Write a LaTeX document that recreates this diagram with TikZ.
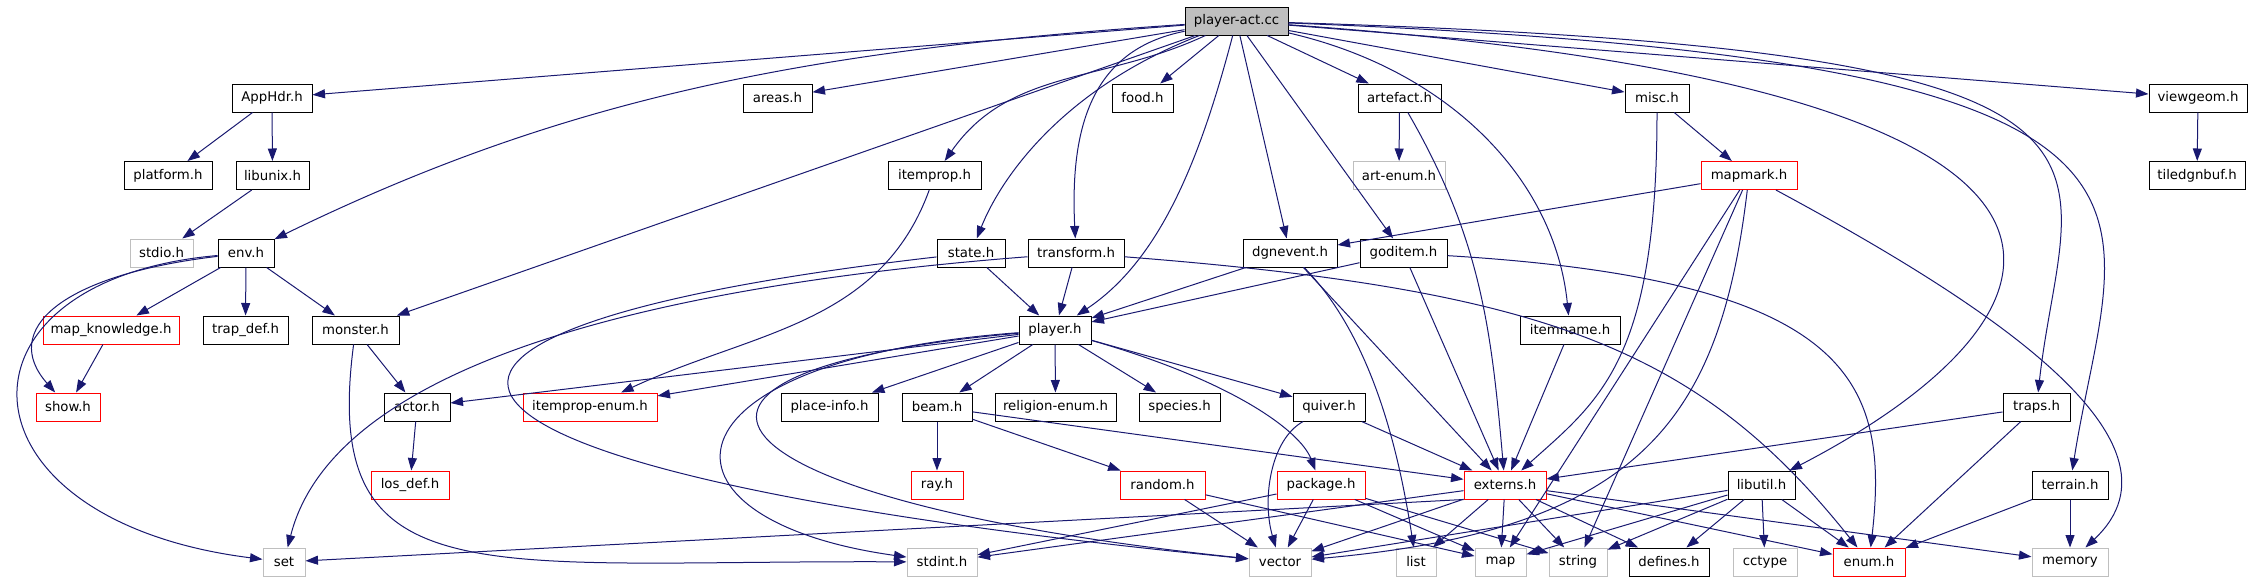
\documentclass[tikz,border=0pt]{standalone}
\usepackage{fontspec}
\setmainfont{DejaVu Sans}
\usepackage{tikz}
\usetikzlibrary{arrows.meta}
\definecolor{edgeblue}{RGB}{25,25,112}
\definecolor{sysgray}{RGB}{191,191,191}
\tikzset{
  font={\fontsize{13.3pt}{16}\selectfont}}

\begin{document}
\begin{tikzpicture}[x=1pt, y=1pt, line width=1pt,
  main/.style = {draw, rectangle, minimum height=28pt, inner sep=0pt},
  sys/.style = {main, draw=sysgray},
  warn/.style = {main, draw=red},
  root/.style = {main, fill=sysgray},
  dep/.style = {draw=edgeblue, -{Triangle[length=12.5pt, width=9pt]}}]
\useasboundingbox (0,0) rectangle (2251,-581);

% row 1 and 2
\node[root, minimum width=103pt] (pact) at (1236.5,-21) {player-act.cc};
\node[main, minimum width=80pt] (apphdr) at (272,-98) {AppHdr.h};
\node[main, minimum width=69pt] (areas) at (777.5,-98) {areas.h};
\node[main, minimum width=61pt] (food) at (1142.5,-98) {food.h};
\node[main, minimum width=83pt] (artefact) at (1399.5,-98) {artefact.h};
\node[main, minimum width=64pt] (misc) at (1657,-98) {misc.h};
\node[main, minimum width=98pt] (viewgeom) at (2198,-98) {viewgeom.h};

% row 3
\node[main, minimum width=88pt] (platform) at (168,-175.5) {platform.h};
\node[main, minimum width=73pt] (libunix) at (272.5,-175.5) {libunix.h};
\node[main, minimum width=93pt] (itemprop) at (934.5,-175.5) {itemprop.h};
\node[sys, minimum width=92pt] (artenum) at (1399,-175.5) {art-enum.h};
\node[warn, minimum width=96pt] (mapmark) at (1749,-175.5) {mapmark.h};
\node[main, minimum width=96pt] (tiledgnbuf) at (2197,-175.5) {tiledgnbuf.h};

% row 4
\node[sys, minimum width=63pt] (stdio) at (161.5,-253) {stdio.h};
\node[main, minimum width=56pt] (env) at (246,-253) {env.h};
\node[main, minimum width=68pt] (state) at (971,-253) {state.h};
\node[main, minimum width=96pt] (transform) at (1076,-253) {transform.h};
\node[main, minimum width=94pt] (dgnevent) at (1290,-253) {dgnevent.h};
\node[main, minimum width=87pt] (goditem) at (1403.5,-253) {goditem.h};

% row 5
\node[warn, minimum width=136pt] (mapknow) at (111,-330) {map\_knowledge.h};
\node[main, minimum width=85pt] (trapdef) at (245.5,-330) {trap\_def.h};
\node[main, minimum width=87pt] (monster) at (355.5,-330) {monster.h};
\node[main, minimum width=72pt] (player) at (1055,-330) {player.h};
\node[main, minimum width=100pt] (itemname) at (1570,-330) {itemname.h};

% row 6
\node[warn, minimum width=64pt] (show) at (68,-407) {show.h};
\node[main, minimum width=66pt] (actor) at (417,-407) {actor.h};
\node[warn, minimum width=134pt] (itempropenum) at (590,-407) {itemprop-enum.h};
\node[main, minimum width=97pt] (placeinfo) at (829.5,-407) {place-info.h};
\node[main, minimum width=70pt] (beam) at (937,-407) {beam.h};
\node[main, minimum width=121pt] (religion) at (1055.5,-407) {religion-enum.h};
\node[main, minimum width=81pt] (species) at (1179.5,-407) {species.h};
\node[main, minimum width=72pt] (quiver) at (1329,-407) {quiver.h};
\node[main, minimum width=67pt] (traps) at (2036.5,-407) {traps.h};

% row 7
\node[warn, minimum width=78pt] (losdef) at (410,-485) {los\_def.h};
\node[warn, minimum width=52pt] (ray) at (937,-485) {ray.h};
\node[warn, minimum width=85pt] (random) at (1162.5,-485) {random.h};
\node[warn, minimum width=88pt] (package) at (1321,-485) {package.h};
\node[warn, minimum width=82pt] (externs) at (1505,-485) {externs.h};
\node[main, minimum width=67pt] (libutil) at (1761.5,-485) {libutil.h};
\node[main, minimum width=76pt] (terrain) at (2070,-485) {terrain.h};

% row 8
\node[sys, minimum width=42pt] (set) at (284,-562) {set};
\node[sys, minimum width=70pt] (stdint) at (942,-562) {stdint.h};
\node[sys, minimum width=62pt] (vector) at (1280,-562) {vector};
\node[sys, minimum width=40pt] (list) at (1416,-562) {list};
\node[sys, minimum width=51pt] (map) at (1500.5,-562) {map};
\node[sys, minimum width=58pt] (string) at (1578,-562) {string};
\node[main, minimum width=80pt] (defines) at (1669,-562) {defines.h};
\node[sys, minimum width=64pt] (cctype) at (1765,-562) {cctype};
\node[warn, minimum width=72pt] (enum) at (1869,-562) {enum.h};
\node[sys, minimum width=76pt] (memory) at (2070,-562) {memory};

% player-act.cc
\draw[dep] (pact) -- (apphdr);
\draw[dep] (pact) -- (areas);
\draw[dep] (pact) .. controls (800,-50) and (560,-100) .. (env);
\draw[dep] (pact) -- (monster);
\draw[dep] (pact) to [out=205, in=55] (itemprop);
\draw[dep] (pact) .. controls (1060,-90) and (1000,-180) .. (state);
\draw[dep] (pact) .. controls (1090,-50) and (1070,-130) .. (transform);
\draw[dep] (pact) -- (food);
\draw[dep] (pact) .. controls (1200,-160) and (1160,-260) .. (player);
\draw[dep] (pact) -- (dgnevent);
\draw[dep] (pact) -- (goditem);
\draw[dep] (pact) -- (artefact);
\draw[dep] (pact) .. controls (1450,-70) and (1555,-180) .. (itemname);
\draw[dep] (pact) -- (misc);
\draw[dep] (pact) .. controls (2200,-90) and (2080,-320) .. (libutil);
\draw[dep] (pact) .. controls (2200,-50) and (2065,-150) .. (traps);
\draw[dep] (pact) .. controls (2250,-60) and (2115,-200) .. (terrain);
\draw[dep] (pact) -- (viewgeom);

\draw[dep] (apphdr) -- (platform);
\draw[dep] (apphdr) -- (libunix);
\draw[dep] (libunix) -- (stdio);
\draw[dep] (viewgeom) -- (tiledgnbuf);
\draw[dep] (artefact) -- (artenum);
\draw[dep] (artefact) to [out=-60, in=95] (externs);
\draw[dep] (misc) -- (mapmark);
\draw[dep] (misc) .. controls (1657,-360) and (1600,-400) .. (externs);
\draw[dep] (itemprop) to [out=-110, in=25] (itempropenum);

% mapmark.h
\draw[dep] (mapmark) -- (dgnevent);
\draw[dep] (mapmark) .. controls (1720,-420) and (1640,-530) .. (vector);
\draw[dep] (mapmark) -- (map);
\draw[dep] (mapmark) -- (string);
\draw[dep] (mapmark) .. controls (1980,-300) and (2200,-440) .. (memory);

% env.h
\draw[dep] (env) .. controls (60,-275) and (0,-330) .. (show);
\draw[dep] (env) .. controls (-60,-280) and (-50,-520) .. (set);
\draw[dep] (env) -- (mapknow);
\draw[dep] (env) -- (trapdef);
\draw[dep] (env) -- (monster);
\draw[dep] (mapknow) -- (show);
\draw[dep] (monster) -- (actor);
\draw[dep] (monster) .. controls (320,-600) and (480,-560) .. (stdint);
\draw[dep] (actor) -- (losdef);

% state.h, transform.h, dgnevent.h, goditem.h
\draw[dep] (state) -- (player);
\draw[dep] (state) .. controls (300,-330) and (350,-470) .. (vector);
\draw[dep] (transform) -- (player);
\draw[dep] (transform) .. controls (600,-290) and (330,-380) .. (set);
\draw[dep] (transform) .. controls (1550,-290) and (1700,-350) .. (enum);
\draw[dep] (dgnevent) -- (player);
\draw[dep] (dgnevent) .. controls (1375,-340) and (1400,-460) .. (list);
\draw[dep] (dgnevent) -- (externs);
\draw[dep] (goditem) -- (player);
\draw[dep] (goditem) -- (externs);
\draw[dep] (goditem) .. controls (1850,-280) and (1890,-380) .. (enum);

% player.h
\draw[dep] (player) -- (actor);
\draw[dep] (player) -- (itempropenum);
\draw[dep] (player) -- (placeinfo);
\draw[dep] (player) -- (beam);
\draw[dep] (player) -- (religion);
\draw[dep] (player) -- (species);
\draw[dep] (player) -- (quiver);
\draw[dep] (player) .. controls (1230,-380) and (1300,-430) .. (package);
\draw[dep] (player) .. controls (650,-360) and (640,-520) .. (stdint);
\draw[dep] (player) .. controls (600,-370) and (690,-500) .. (vector);
\draw[dep] (itemname) -- (externs);

\draw[dep] (beam) -- (ray);
\draw[dep] (beam) -- (random);
\draw[dep] (beam) -- (externs);
\draw[dep] (quiver) .. controls (1270,-440) and (1262,-500) .. (vector);
\draw[dep] (quiver) -- (externs);
\draw[dep] (traps) -- (externs);
\draw[dep] (traps) -- (enum);
\draw[dep] (random) -- (vector);
\draw[dep] (random) -- (map);
\draw[dep] (package) -- (stdint);
\draw[dep] (package) -- (vector);
\draw[dep] (package) -- (map);
\draw[dep] (package) -- (string);

% externs.h
\draw[dep] (externs.south west) -- (set);
\draw[dep] (externs) -- (stdint);
\draw[dep] (externs) -- (vector);
\draw[dep] (externs) -- (list);
\draw[dep] (externs) -- (map);
\draw[dep] (externs) -- (string);
\draw[dep] (externs) -- (defines);
\draw[dep] (externs) -- (enum);
\draw[dep] (externs) -- (memory);

% libutil.h, terrain.h
\draw[dep] (libutil) -- (vector);
\draw[dep] (libutil) -- (map);
\draw[dep] (libutil) -- (string);
\draw[dep] (libutil) -- (defines);
\draw[dep] (libutil) -- (cctype);
\draw[dep] (libutil) -- (enum);
\draw[dep] (terrain) -- (enum);
\draw[dep] (terrain) -- (memory);
\end{tikzpicture}
\end{document}
